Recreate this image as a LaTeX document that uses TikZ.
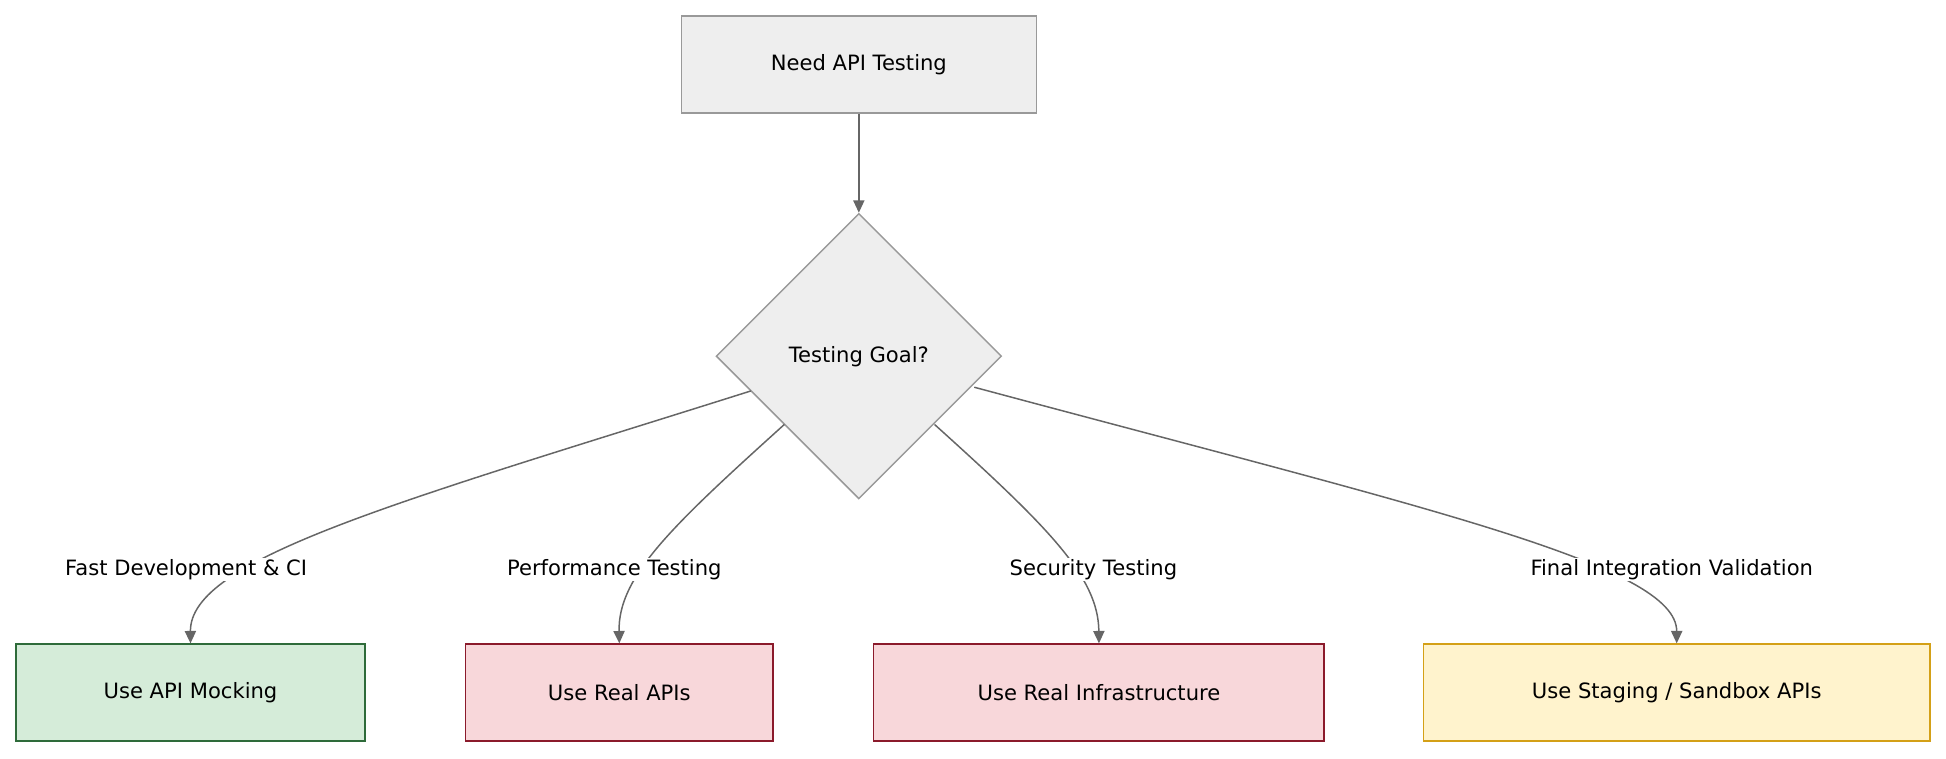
\documentclass[tikz,border=0pt]{standalone}
\usepackage{fontspec}
\setmainfont{DejaVu Sans}
\usetikzlibrary{shapes.geometric,arrows.meta}
\definecolor{gbox}{HTML}{EEEEEE}\definecolor{gbord}{HTML}{999999}
\definecolor{grf}{HTML}{D5ECD9}\definecolor{grb}{HTML}{2E6B3A}
\definecolor{rdf}{HTML}{F8D7DA}\definecolor{rdb}{HTML}{8B1A2B}
\definecolor{ylf}{HTML}{FFF3CD}\definecolor{ylb}{HTML}{D4A017}
\definecolor{ln}{HTML}{666666}
\begin{document}
\begin{tikzpicture}[x=1pt,y=-1pt,
  box/.style={draw,line width=1.2pt,minimum height=78pt,inner sep=0pt,font=\fontsize{17}{20}\selectfont},
  edge/.style={draw=ln,line width=1.2pt,-{Triangle[length=10pt,width=9pt]}},
  lab/.style={fill=white,inner sep=1pt,font=\fontsize{17}{20}\selectfont}]
\useasboundingbox (0,0) rectangle (1568,611);
\node[box,fill=gbox,draw=gbord,minimum width=286pt] (top) at (692,52) {Need API Testing};
\node[diamond,draw=gbord,fill=gbox,line width=1.2pt,minimum width=230pt,minimum height=230pt,inner sep=0pt,font=\fontsize{17}{20}\selectfont] (d) at (692,287) {Testing Goal?};
\node[box,fill=grf,draw=grb,minimum width=281pt] (a) at (153.5,558) {Use API Mocking};
\node[box,fill=rdf,draw=rdb,minimum width=248pt] (b) at (499,558) {Use Real APIs};
\node[box,fill=rdf,draw=rdb,minimum width=363pt] (c) at (885.5,558) {Use Real Infrastructure};
\node[box,fill=ylf,draw=ylb,minimum width=408pt] (e) at (1351,558) {Use Staging / Sandbox APIs};
\draw[edge] (top) -- (d);
\coordinate (s1) at (605,315);\coordinate (s2) at (632,342);
\coordinate (s3) at (753,342);\coordinate (s4) at (785,312);
\draw[edge] (s1) .. controls (320,405) and (153,450) .. (a.north);
\draw[edge] (s2) .. controls (540,425) and (498,465) .. (b.north);
\draw[edge] (s3) .. controls (845,425) and (885,465) .. (c.north);
\draw[edge] (s4) .. controls (1150,410) and (1351,455) .. (e.north);
\node[lab] (l1) at (150,459) {Fast Development \& CI};
\node[lab] (l2) at (495,459) {Performance Testing};
\node[lab] (l3) at (881,459) {Security Testing};
\node[lab] (l4) at (1347,459) {Final Integration Validation};
\end{tikzpicture}
\end{document}
